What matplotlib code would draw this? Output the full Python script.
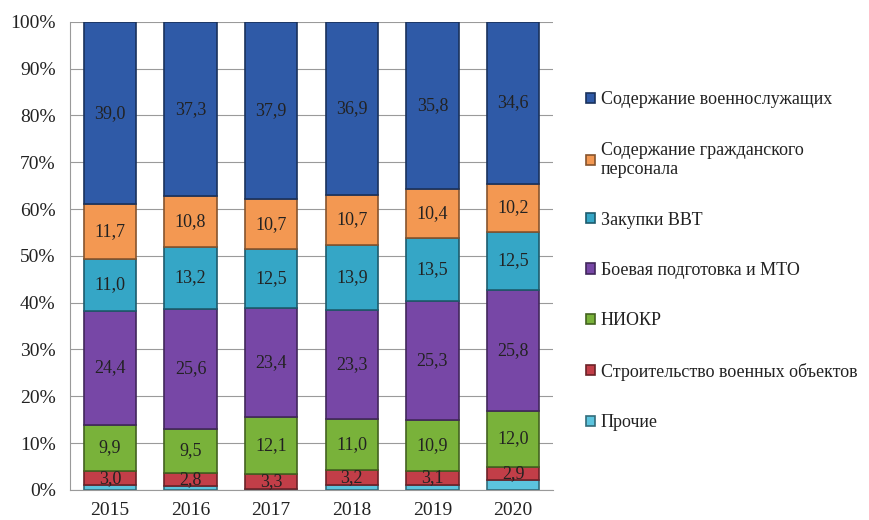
import numpy as np
import matplotlib.pyplot as plt
import matplotlib.colors as mcolors

plt.rcParams['font.family'] = ['Liberation Serif', 'DejaVu Serif']

years = ['2015', '2016', '2017', '2018', '2019', '2020']

# значения по статьям (снизу вверх)
prochie = [1.0, 0.8, 0.1, 1.0, 1.0, 2.0]
stroitelstvo = [3.0, 2.8, 3.3, 3.2, 3.1, 2.9]
niokr = [9.9, 9.5, 12.1, 11.0, 10.9, 12.0]
boevaya = [24.4, 25.6, 23.4, 23.3, 25.3, 25.8]
zakupki = [11.0, 13.2, 12.5, 13.9, 13.5, 12.5]
grazhd = [11.7, 10.8, 10.7, 10.7, 10.4, 10.2]
voenn = [39.0, 37.3, 37.9, 36.9, 35.8, 34.6]

series = [
    ('Прочие', prochie, '#5cc4de', False),
    ('Строительство военных объектов', stroitelstvo, '#c23e48', True),
    ('НИОКР', niokr, '#79b23a', True),
    ('Боевая подготовка и МТО', boevaya, '#7747a6', True),
    ('Закупки ВВТ', zakupki, '#35a6c6', True),
    ('Содержание гражданского\nперсонала', grazhd, '#f39852', True),
    ('Содержание военнослужащих', voenn, '#2f5aa7', True),
]

fig = plt.figure(figsize=(8.7, 5.2), dpi=100)
ax = fig.add_axes([0.08, 0.058, 0.556, 0.9])

x = np.arange(len(years))
bottom = np.zeros(len(years))
handles = []
for name, vals, color, show in series:
    vals = np.array(vals)
    edge = np.array(mcolors.to_rgb(color)) * 0.55
    bars = ax.bar(x, vals, 0.65, bottom=bottom, color=color,
                  edgecolor=edge, linewidth=1.2, label=name, zorder=3)
    if show:
        for xi, b, v in zip(x, bottom, vals):
            ax.text(xi, b + v / 2, f'{v:.1f}'.replace('.', ','),
                    ha='center', va='center', fontsize=13, color='#222222', zorder=4)
    handles.append(bars)
    bottom += vals

ax.set_xlim(-0.5, 5.5)
ax.set_ylim(0, 100)
ax.set_yticks(np.arange(0, 101, 10))
ax.set_yticklabels([f'{t}%' for t in range(0, 101, 10)])
ax.set_xticks(x)
ax.set_xticklabels(years)
ax.tick_params(axis='both', length=0, labelsize=14, colors='#222222')
ax.tick_params(axis='y', pad=10)
ax.tick_params(axis='x', pad=9)
ax.grid(axis='y', color='#9a9a9a', linewidth=0.8, zorder=0)
for s in ['top', 'right']:
    ax.spines[s].set_visible(False)
ax.spines['left'].set_color('#9a9a9a')
ax.spines['bottom'].set_color('#9a9a9a')

leg = fig.legend(handles[::-1], [s[0] for s in series[::-1]],
                 loc='upper left', bbox_to_anchor=(0.655, 0.856),
                 frameon=False, fontsize=13, labelspacing=1.85,
                 handlelength=0.5, handleheight=0.5, handletextpad=0.3)
for t in leg.get_texts():
    t.set_color('#222222')

fig.savefig('out.png', dpi=100)
